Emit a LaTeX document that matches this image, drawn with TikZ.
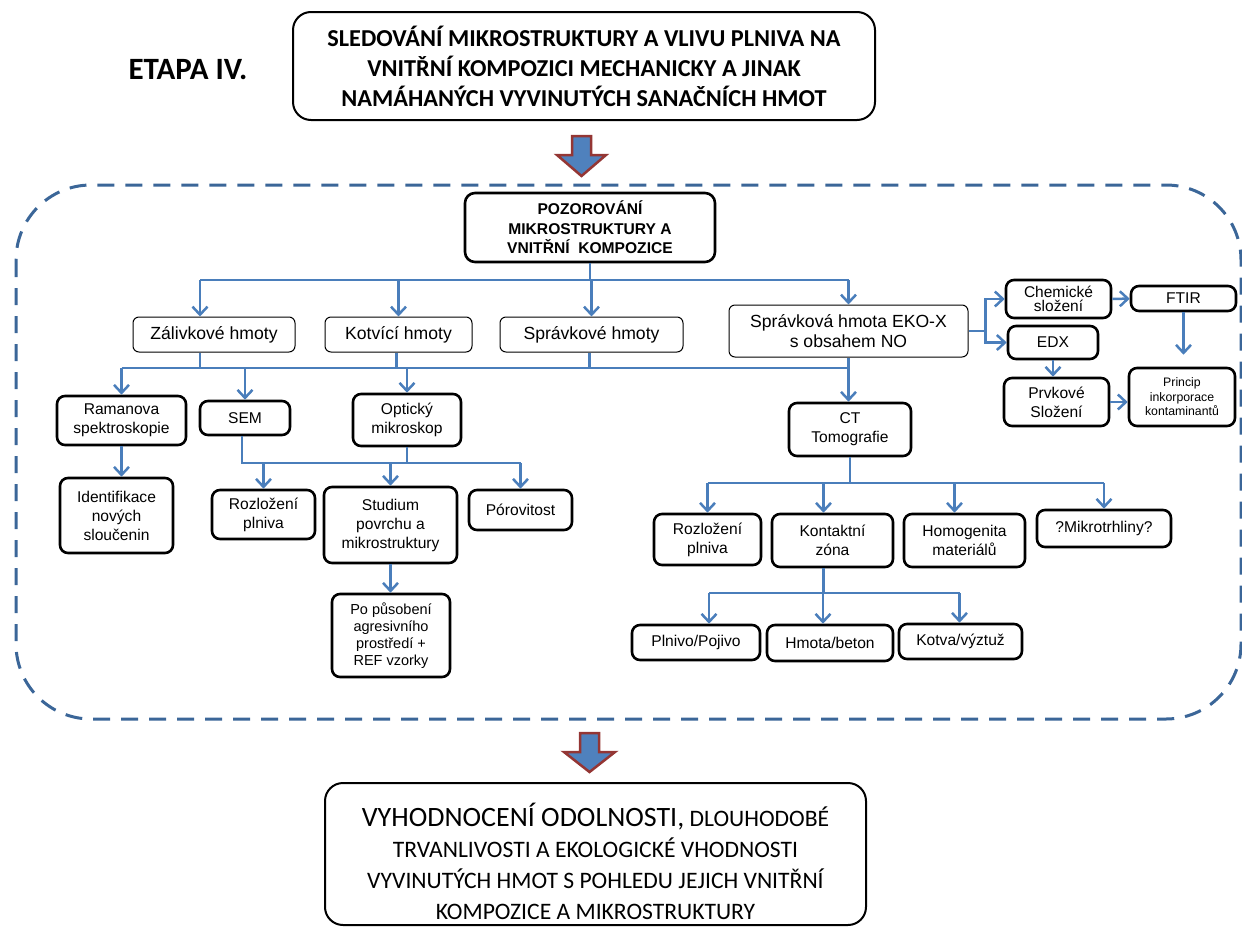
\documentclass[tikz,border=0pt]{standalone}
\usepackage{fontspec}
\setmainfont{Liberation Sans}
\newfontfamily\calfont{Carlito}
\usetikzlibrary{arrows.meta}

\definecolor{linkblue}{HTML}{4A7EBB}
\definecolor{frameblue}{HTML}{3B6698}
\definecolor{arrowred}{HTML}{943634}
\definecolor{arrowfill}{HTML}{4F81BD}

\tikzset{
    conn/.style={linkblue, line width=2.5pt},
    arr/.style={conn, -{Straight Barb[length=8pt,width=15pt]}},
    thinbox/.style={draw, line width=1pt, rounded corners=6pt, align=center, inner sep=0pt, font=\fontsize{17.6}{20}\selectfont},
    boldbox/.style={draw, line width=2.6pt, rounded corners=8pt, align=center, inner sep=0pt, font=\fontsize{15.6}{19}\selectfont},
    titlebox/.style={draw, line width=2pt, rounded corners=18pt, align=center, inner sep=0pt},
    bigarrow/.style={fill=arrowfill, draw=arrowred, line width=2.5pt, line join=miter},
    framebox/.style={frameblue, line width=3pt, dash pattern=on 17pt off 11pt, rounded corners=75pt}
}

\begin{document}
\begin{tikzpicture}[x=1pt, y=-1pt]
    \useasboundingbox (0,0) rectangle (1242,929);

    % Nadpis etapy
    \node[font=\calfont\bfseries\fontsize{31}{36}\selectfont] (etapa) at (188,70) {ETAPA IV.};
    \node[titlebox, minimum width=582pt, minimum height=108pt, font=\calfont\bfseries\fontsize{24.3}{30}\selectfont] (title) at (584,66)
        {\rule{0pt}{22pt}SLEDOVÁNÍ MIKROSTRUKTURY A VLIVU PLNIVA NA\\VNITŘNÍ KOMPOZICI MECHANICKY A JINAK\\NAMÁHANÝCH VYVINUTÝCH SANAČNÍCH HMOT};

    % Velke sipky
    \draw[bigarrow] (572,136) -- (591,136) -- (591,155) -- (606,155) -- (581.5,176) -- (557,155) -- (572,155) -- cycle;
    \draw[bigarrow] (580,733) -- (599,733) -- (599,752) -- (615,752) -- (589.5,772) -- (564,752) -- (580,752) -- cycle;

    % Carkovany ramecek
    \draw[framebox] (16,185) rectangle (1241,719);

    % Hlavni uzel
    \node[boldbox, minimum width=250pt, minimum height=69pt, rounded corners=10pt, font=\bfseries\fontsize{15.6}{19.5}\selectfont] (poz) at (590,227.5)
        {POZOROVÁNÍ\\MIKROSTRUKTURY A\\VNITŘNÍ~~KOMPOZICE};

    % Druhy hmot
    \node[thinbox, minimum width=162pt, minimum height=35pt] (zal) at (214,334.5) {Zálivkové hmoty};
    \node[thinbox, minimum width=147pt, minimum height=35pt] (kot) at (398.5,334.5) {Kotvící hmoty};
    \node[thinbox, minimum width=183pt, minimum height=35pt] (spr) at (591.5,334.5) {Správkové hmoty};
    \node[thinbox, minimum width=239pt, minimum height=52pt] (eko) at (848.5,331) {Správková hmota EKO-X\\s obsahem NO};

    % Metody
    \node[boldbox, minimum width=129pt, minimum height=49pt] (ram) at (121.5,420.5) {Ramanova\\spektroskopie};
    \node[boldbox, minimum width=90pt, minimum height=34pt] (sem) at (245,418) {SEM};
    \node[boldbox, minimum width=108pt, minimum height=52pt] (opt) at (407,420) {Optický\\mikroskop};
    \node[boldbox, minimum width=122pt, minimum height=53pt] (ct) at (850,429.5) {CT\\Tomografie};

    % Vysledky vlevo
    \node[boldbox, minimum width=113pt, minimum height=75pt] (idf) at (116.5,515.5) {Identifikace\\nových\\sloučenin};
    \node[boldbox, minimum width=103pt, minimum height=49pt] (roz) at (263.5,514.5) {Rozložení\\plniva};
    \node[boldbox, minimum width=133pt, minimum height=76pt] (stu) at (390.5,525) {Studium\\povrchu a\\mikrostruktury};
    \node[boldbox, minimum width=103pt, minimum height=40pt] (por) at (520.5,510) {Pórovitost};
    \node[boldbox, minimum width=118pt, minimum height=83pt, font=\fontsize{14.5}{17}\selectfont] (pos) at (391,635.5)
        {Po působení\\agresivního\\prostředí +\\REF vzorky};

    % Vysledky CT
    \node[boldbox, minimum width=107pt, minimum height=51pt] (roz2) at (707.5,539.5) {Rozložení\\plniva};
    \node[boldbox, minimum width=121pt, minimum height=53pt] (kon) at (832.5,540.5) {Kontaktní\\zóna};
    \node[boldbox, minimum width=121pt, minimum height=53pt] (hom) at (964.5,540.5) {Homogenita\\materiálů};
    \node[boldbox, minimum width=134pt, minimum height=37pt] (mik) at (1104,528.5) {?Mikrotrhliny?};
    \node[boldbox, minimum width=128pt, minimum height=35pt] (pln) at (696,642.5) {Plnivo/Pojivo};
    \node[boldbox, minimum width=126pt, minimum height=36pt] (hmo) at (830,643) {Hmota/beton};
    \node[boldbox, minimum width=123pt, minimum height=35pt] (kov) at (960.5,641.5) {Kotva/výztuž};

    % Chemicke slozeni
    \node[boldbox, minimum width=105pt, minimum height=38pt, font=\fontsize{15.5}{14}\selectfont] (che) at (1058.5,299) {Chemické\\složení};
    \node[boldbox, minimum width=105pt, minimum height=25pt] (ftir) at (1183.5,298.5) {FTIR};
    \node[boldbox, minimum width=90pt, minimum height=33pt] (edx) at (1053,342.5) {EDX};
    \node[boldbox, minimum width=105pt, minimum height=48pt] (prv) at (1056.5,402) {Prvkové\\Složení};
    \node[boldbox, minimum width=106pt, minimum height=58pt, font=\fontsize{12.3}{14.5}\selectfont] (pri) at (1182,397) {Princip\\inkorporace\\kontaminantů};

    % Zaverecne vyhodnoceni
    \node[titlebox, minimum width=541pt, minimum height=142pt, font=\calfont\fontsize{23.6}{31}\selectfont] (result) at (595.5,854)
        {\rule{0pt}{38pt}{\fontsize{28}{31}\selectfont VYHODNOCENÍ ODOLNOSTI,} DLOUHODOBÉ\\TRVANLIVOSTI A EKOLOGICKÉ VHODNOSTI\\VYVINUTÝCH HMOT S POHLEDU JEJICH VNITŘNÍ\\KOMPOZICE A MIKROSTRUKTURY};

    % Vetveni od hlavniho uzlu
    \coordinate (b1) at (590,280);
    \draw[conn] (poz.south) -- (b1);
    \draw[conn] ([xshift=-14pt]zal.north |- b1) -- (eko.north |- b1);
    \draw[arr] ([xshift=-14pt]zal.north |- b1) -- ([xshift=-14pt]zal.north);
    \foreach \n in {kot,spr,eko} {
        \draw[arr] (\n.north |- b1) -- (\n.north);
    }

    % Vetveni k metodam
    \coordinate (b2) at (400,368);
    \foreach \n/\dx in {zal/-14pt,kot/-2pt,spr/-2pt} {
        \draw[conn] ([xshift=\dx]\n.south) -- ([xshift=\dx]\n.south |- b2);
    }
    \draw[conn] (ram.north |- b2) -- (eko.south |- b2);
    \foreach \n in {ram,sem,opt} {
        \draw[arr] (\n.north |- b2) -- (\n.north);
    }
    \draw[arr] (eko.south) -- (eko.south |- ct.north);
    \draw[arr] (ram.south) -- (ram.south |- idf.north);

    % SEM a opticky mikroskop
    \coordinate (b3) at (400,463);
    \draw[conn] ([xshift=-3pt]sem.south) |- (por.north |- b3);
    \draw[conn] (opt.south) -- (opt.south |- b3);
    \foreach \n in {roz,stu,por} {
        \draw[arr] (\n.north |- b3) -- (\n.north);
    }
    \draw[arr] (stu.south) -- (stu.south |- pos.north);

    % CT tomografie
    \coordinate (b4) at (850,483);
    \draw[conn] (ct.south) -- (ct.south |- b4);
    \draw[conn] (roz2.north |- b4) -- (mik.north |- b4);
    \foreach \n/\dx in {roz2/0pt,kon/-9pt,hom/-10pt,mik/0pt} {
        \draw[arr] ([xshift=\dx]\n.north |- b4) -- ([xshift=\dx]\n.north);
    }

    % Kontaktni zona
    \coordinate (b5) at (823,593);
    \draw[conn] ([xshift=-9pt]kon.south) -- ([xshift=-9pt]kon.south |- b5);
    \draw[conn] ([xshift=13pt]pln.north |- b5) -- ([xshift=-1pt]kov.north |- b5);
    \foreach \n/\dx in {pln/13pt,hmo/-7pt,kov/-1pt} {
        \draw[arr] ([xshift=\dx]\n.north |- b5) -- ([xshift=\dx]\n.north);
    }

    % Chemicke a prvkove slozeni
    \draw[conn] (eko.east) -- ++(17,0) coordinate (b6);
    \draw[arr] (b6) |- (che.west);
    \draw[arr] (b6) |- (edx.west);
    \draw[arr] (che) -- (ftir);
    \draw[arr, shorten >=12pt] (ftir.south) -- (ftir.south |- pri.north);
    \draw[arr] (edx.south) -- (edx.south |- prv.north);
    \draw[arr] (prv.east) -- (prv.east -| pri.west);

\end{tikzpicture}
\end{document}
